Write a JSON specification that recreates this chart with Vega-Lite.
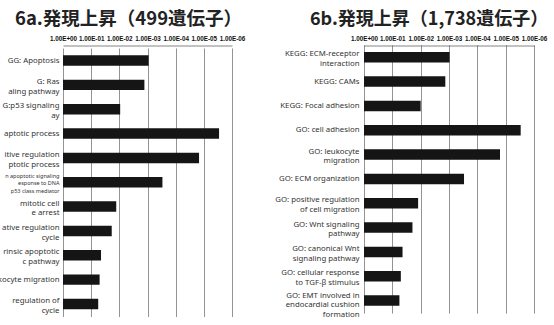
{
  "$schema": "https://vega.github.io/schema/vega-lite/v6.json",
  "padding": {"left": -8, "top": 9.5, "right": 5, "bottom": 0},
  "background": "white",
  "config": {
    "view": {"stroke": null},
    "font": "Noto Sans",
    "axisX": {
      "orient": "top",
      "ticks": false,
      "domain": true,
      "domainColor": "#666",
      "domainWidth": 0.8,
      "grid": true,
      "gridColor": "#777",
      "gridWidth": 0.8,
      "labelFont": "Liberation Sans",
      "labelFontSize": 6.3,
      "labelFontWeight": "bold",
      "labelColor": "#111",
      "labelPadding": 4,
      "labelFlush": false,
      "title": null
    },
    "axisY": {
      "ticks": false,
      "domain": false,
      "grid": false,
      "labelFont": "Noto Sans",
      "labelFontSize": 7.8,
      "labelColor": "#333",
      "labelPadding": 5,
      "labelLimit": 200,
      "title": null
    },
    "title": {
      "font": "Noto Sans CJK JP",
      "fontWeight": "bold",
      "color": "#222",
      "anchor": "start",
      "frame": "group",
      "offset": 7
    }
  },
  "datasets": {
    "a": [
      {"term": "GG: Apoptosis", "v": 3.04},
      {"term": "G: Ras|aling pathway", "v": 2.89},
      {"term": "G:p53 signaling|ay", "v": 2.03},
      {"term": "aptotic process", "v": 5.54},
      {"term": "itive regulation|ptotic process", "v": 4.83},
      {"term": "n apoptotic signaling|esponse to DNA|p53 class mediator", "v": 3.53},
      {"term": "mitotic cell|e arrest", "v": 1.89},
      {"term": "ative regulation|cycle", "v": 1.73},
      {"term": "rinsic apoptotic|c pathway", "v": 1.35},
      {"term": "ukocyte migration", "v": 1.3},
      {"term": "regulation of|cycle", "v": 1.25}
    ],
    "b": [
      {"term": "KEGG: ECM-receptor|interaction", "v": 3.02},
      {"term": "KEGG: CAMs", "v": 2.87},
      {"term": "KEGG: Focal adhesion", "v": 2.0},
      {"term": "GO: cell adhesion", "v": 5.53},
      {"term": "GO: leukocyte|migration", "v": 4.8},
      {"term": "GO: ECM organization", "v": 3.53},
      {"term": "GO: positive regulation|of cell migration", "v": 1.91},
      {"term": "GO: Wnt signaling|pathway", "v": 1.71},
      {"term": "GO: canonical Wnt|signaling pathway", "v": 1.36},
      {"term": "GO: cellular response|to TGF-β stimulus", "v": 1.3},
      {"term": "GO: EMT involved in|endocardial cushion|formation", "v": 1.25}
    ]
  },
  "spacing": 29,
  "hconcat": [
    {
      "width": 169,
      "height": 271,
      "data": {"name": "a"},
      "title": {"text": "6a.発現上昇（499遺伝子）", "dx": -48, "fontSize": 18.5},
      "mark": {"type": "bar", "color": "#151515"},
      "encoding": {
        "y": {
          "field": "term", "type": "nominal", "sort": null,
          "scale": {"paddingInner": 0.57, "paddingOuter": 0.3, "range": [2.5, 271]},
          "axis": {
            "labelExpr": "split(datum.label, '|')",
            "labelPadding": 4,
            "labelFontSize": {"condition": {"test": "indexof(datum.value, 'DNA') >= 0", "value": 5.5}, "value": 7.8},
            "labelOffset": {"condition": [
              {"test": "indexof(datum.value, 'DNA') >= 0", "value": -6.5},
              {"test": "indexof(datum.value, '|') >= 0", "value": -3}
            ], "value": 0}
          }
        },
        "x": {
          "field": "v", "type": "quantitative",
          "scale": {"domain": [0, 6], "nice": false, "zero": true},
          "axis": {
            "values": [0, 1, 2, 3, 4, 5, 6],
            "labelExpr": "datum.value == 0 ? '1.00E+00' : '1.00E-0' + datum.value"
          }
        }
      }
    },
    {
      "width": 170,
      "height": 268,
      "data": {"name": "b"},
      "title": {"text": "6b.発現上昇（1,738遺伝子）", "dx": -54, "fontSize": 18},
      "mark": {"type": "bar", "color": "#151515"},
      "encoding": {
        "y": {
          "field": "term", "type": "nominal", "sort": null,
          "scale": {"paddingInner": 0.57, "paddingOuter": 0.3, "range": [-0.8, 267.6]},
          "axis": {
            "labelExpr": "split(datum.label, '|')",
            "labelOffset": {"condition": [
              {"test": "length(split(datum.value, '|')) == 3", "value": -5},
              {"test": "indexof(datum.value, '|') >= 0", "value": -3}
            ], "value": 0}
          }
        },
        "x": {
          "field": "v", "type": "quantitative",
          "scale": {"domain": [0, 6], "nice": false, "zero": true},
          "axis": {
            "values": [0, 1, 2, 3, 4, 5, 6],
            "labelExpr": "datum.value == 0 ? '1.00E+00' : '1.00E-0' + datum.value"
          }
        }
      }
    }
  ]
}
